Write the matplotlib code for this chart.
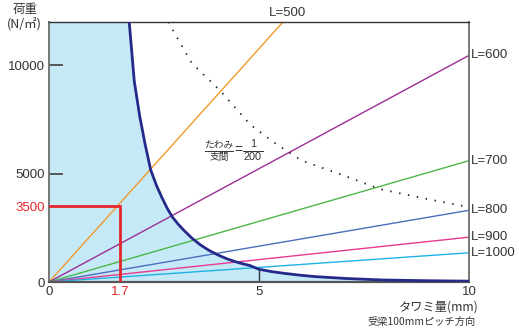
import matplotlib
matplotlib.use("Agg")
import matplotlib.pyplot as plt
import numpy as np

# ---- data ----
spans = ["L=500", "L=600", "L=700", "L=800", "L=900", "L=1000"]
load_at_10mm = [21540, 10460, 5600, 3310, 2070, 1350]
span_colors = ["#f39a2b", "#9b2e96", "#4cb749", "#4a6fbd", "#e8398f", "#1fb1e6"]

curve_defl = [1.91, 2.03, 2.16, 2.29, 2.42, 2.56, 2.70, 2.82, 2.94, 3.07, 3.20, 3.40, 3.60, 3.80, 4.02, 4.25, 4.50, 4.79, 5.00, 5.30, 5.60, 6.00, 6.37, 7.10, 7.95, 9.00, 10.0]
curve_load = [12000, 9273, 7650, 6343, 5185, 4450, 3850, 3380, 2995, 2680, 2407, 2030, 1720, 1470, 1250, 1060, 900, 755, 588, 480, 400, 310, 245, 160, 93, 60, 40]

dot_defl = [2.84, 3.40, 4.07, 4.79, 5.40, 6.02, 7.00, 7.88, 9.00, 10.0]
dot_load = [12000, 10100, 8842, 7268, 6380, 5602, 4930, 4290, 3830, 3458]

mark_defl = 1.7
mark_load = 3500

ytick_vals = [0, 3500, 5000, 10000]
ytick_labels = ["0", "3500", "5000", "10000"]
xtick_vals = [0, 1.7, 5, 10]
xtick_labels = ["0", "1.7", "5", "10"]

NUM = ["Liberation Sans", "DejaVu Sans"]
JP = ["Noto Sans CJK JP", "DejaVu Sans"]
plt.rcParams["font.family"] = NUM

fig = plt.figure(figsize=(5.19, 3.31), dpi=100)
ax = fig.add_axes([0.0944, 0.148, 0.8093, 0.7855])
ax.set_xlim(0, 10)
ax.set_ylim(0, 12000)

# blue fill
fx = np.r_[0, curve_defl]
fy = np.r_[12000, curve_load]
ax.fill_between(fx, fy, 0, color="#c6e9f8", lw=0, zorder=0)

# span lines
for lab, v, c in zip(spans, load_at_10mm, span_colors):
    ax.plot([0, 10], [0, v], color=c, lw=1.0, zorder=2)
    if v <= 12000:
        ax.text(10.05, v, lab, fontsize=9.5, color="#333333", va="center", ha="left",
                clip_on=False, family=NUM)
    else:
        xt = 10 * 12000 / v
        ax.text(xt + 0.1, 12150, lab, fontsize=9.5, color="#333333", va="bottom", ha="center",
                clip_on=False, family=NUM)

# dotted limit
ax.plot(dot_defl, dot_load, color="#222222", lw=1.3, linestyle=(0, (0.8, 4.2)), zorder=2)

# capacity curve
ax.plot(curve_defl, curve_load, color="#24298a", lw=2.0, zorder=3, solid_capstyle="butt",
        solid_joinstyle="round")

# red marker lines
ax.plot([0, mark_defl, mark_defl], [mark_load, mark_load, 0], color="#e4262d", lw=2.0, zorder=4,
        solid_joinstyle="miter")

# spines
for s in ["left", "right"]:
    ax.spines[s].set_color("#777777")
    ax.spines[s].set_linewidth(1.4)
ax.spines["top"].set_color("#333333")
ax.spines["top"].set_linewidth(1.0)
ax.spines["bottom"].set_color("#555555")
ax.spines["bottom"].set_linewidth(1.6)

ax.set_yticks(ytick_vals)
ax.set_yticklabels(ytick_labels)
ax.set_xticks(xtick_vals)
ax.set_xticklabels(xtick_labels)
ax.tick_params(axis="y", direction="in", length=10, width=1.4, color="#555555", pad=3,
               labelsize=9.5, labelcolor="#333333")
ax.tick_params(axis="x", direction="in", length=8.5, width=1.0, color="#333333", pad=3,
               labelsize=9.5, labelcolor="#333333")
for t, v in zip(ax.yaxis.get_major_ticks(), ytick_vals):
    if v in (0, 3500):
        t.tick1line.set_visible(False)
for t, v in zip(ax.xaxis.get_major_ticks(), xtick_vals):
    if v in (0, 1.7, 10):
        t.tick1line.set_visible(False)
ax.get_yticklabels()[1].set_color("#e4262d")
ax.get_xticklabels()[1].set_color("#e4262d")

# axis titles
fig.text(25 / 519, 1 - 9 / 331, "荷重", family=JP, fontsize=9, ha="center", va="center", color="#333333")
fig.text(24 / 519, 1 - 25 / 331, "(N/㎡)", family=JP, fontsize=9, ha="center", va="center", color="#333333")
fig.text(479 / 519, 1 - 307 / 331, "タワミ量(mm)", family=JP, fontsize=8.8, ha="right", va="center", color="#333333")
fig.text(476 / 519, 1 - 322 / 331, "受梁100mmピッチ方向", family=JP, fontsize=7.4, ha="right", va="center", color="#333333")

# fraction annotation
fx0 = 219 / 519
fig.text(fx0, 1 - 144 / 331, "たわみ", family=JP, fontsize=7, ha="center", va="center", color="#333333")
fig.text(fx0, 1 - 157 / 331, "支間", family=JP, fontsize=7, ha="center", va="center", color="#333333")
fig.add_artist(plt.Line2D([205 / 519, 233 / 519], [1 - 150.5 / 331, 1 - 150.5 / 331], color="#333333", lw=0.7))
fig.text(238 / 519, 1 - 150 / 331, "=", family=NUM, fontsize=10, ha="center", va="center", color="#333333")
fig.text(253 / 519, 1 - 144 / 331, "1", family=NUM, fontsize=7.8, ha="center", va="center", color="#333333")
fig.text(253 / 519, 1 - 157 / 331, "200", family=NUM, fontsize=7.8, ha="center", va="center", color="#333333")
fig.add_artist(plt.Line2D([243 / 519, 263 / 519], [1 - 150.5 / 331, 1 - 150.5 / 331], color="#333333", lw=0.7))

fig.savefig("out.png", dpi=100, facecolor="white")
